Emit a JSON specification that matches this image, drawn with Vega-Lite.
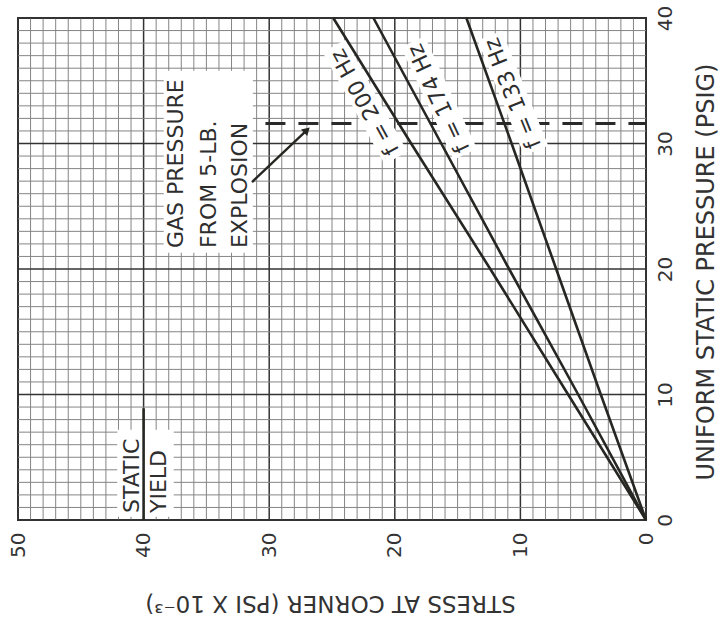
{
  "$schema": "https://vega.github.io/schema/vega-lite/v6.json",
  "width": 628,
  "height": 502,
  "autosize": {"type": "none"},
  "padding": {"left": 18, "top": 18, "right": 80, "bottom": 105},
  "background": "#ffffff",
  "config": {
    "font": "DejaVu Sans",
    "view": {"stroke": "#333333", "strokeWidth": 2},
    "axis": {"grid": false},
    "text": {"color": "#2e2e2e"}
  },
  "datasets": {
    "xgrid": [{"stress":0},{"stress":1},{"stress":2},{"stress":3},{"stress":4},{"stress":5},{"stress":6},{"stress":7},{"stress":8},{"stress":9},{"stress":10},{"stress":11},{"stress":12},{"stress":13},{"stress":14},{"stress":15},{"stress":16},{"stress":17},{"stress":18},{"stress":19},{"stress":20},{"stress":21},{"stress":22},{"stress":23},{"stress":24},{"stress":25},{"stress":26},{"stress":27},{"stress":28},{"stress":29},{"stress":30},{"stress":31},{"stress":32},{"stress":33},{"stress":34},{"stress":35},{"stress":36},{"stress":37},{"stress":38},{"stress":39},{"stress":40},{"stress":41},{"stress":42},{"stress":43},{"stress":44},{"stress":45},{"stress":46},{"stress":47},{"stress":48},{"stress":49},{"stress":50}],
    "ygrid": [{"pressure":0},{"pressure":1},{"pressure":2},{"pressure":3},{"pressure":4},{"pressure":5},{"pressure":6},{"pressure":7},{"pressure":8},{"pressure":9},{"pressure":10},{"pressure":11},{"pressure":12},{"pressure":13},{"pressure":14},{"pressure":15},{"pressure":16},{"pressure":17},{"pressure":18},{"pressure":19},{"pressure":20},{"pressure":21},{"pressure":22},{"pressure":23},{"pressure":24},{"pressure":25},{"pressure":26},{"pressure":27},{"pressure":28},{"pressure":29},{"pressure":30},{"pressure":31},{"pressure":32},{"pressure":33},{"pressure":34},{"pressure":35},{"pressure":36},{"pressure":37},{"pressure":38},{"pressure":39},{"pressure":40}],
    "curves": [
      {"series": "200", "stress": 0, "pressure": 0},
      {"series": "200", "stress": 6.2, "pressure": 10},
      {"series": "200", "stress": 12.4, "pressure": 20},
      {"series": "200", "stress": 18.7, "pressure": 30},
      {"series": "200", "stress": 24.9, "pressure": 40},
      {"series": "174", "stress": 0, "pressure": 0},
      {"series": "174", "stress": 5.4, "pressure": 10},
      {"series": "174", "stress": 10.9, "pressure": 20},
      {"series": "174", "stress": 16.3, "pressure": 30},
      {"series": "174", "stress": 21.7, "pressure": 40},
      {"series": "133", "stress": 0, "pressure": 0},
      {"series": "133", "stress": 3.6, "pressure": 10},
      {"series": "133", "stress": 7.15, "pressure": 20},
      {"series": "133", "stress": 10.7, "pressure": 30},
      {"series": "133", "stress": 14.3, "pressure": 40}
    ],
    "gas": [{"stress": 30.3, "stress2": 0, "pressure": 31.6}],
    "boxes": [
      {"stress": 38.4, "stress2": 31.3, "pressure": 21.3, "pressure2": 35.8},
      {"stress": 42.1, "stress2": 37.6, "pressure": 0.25, "pressure2": 7.2}
    ],
    "bands": [
      {"series": "200", "stress": 19.9, "pressure": 28.84, "stress2": 24.84, "pressure2": 37.77},
      {"series": "174", "stress": 14.39, "pressure": 29.15, "stress2": 18.57, "pressure2": 38.1},
      {"series": "133", "stress": 8.74, "pressure": 29.44, "stress2": 12.44, "pressure2": 38.6}
    ],
    "yield": [{"stress": 40, "pressure": 0, "pressure2": 8.9}],
    "arrow": [{"stress": 31.37, "pressure": 26.93, "stress2": 27.0, "pressure2": 31.07}],
    "arrowhead": [{"stress": 27.0, "pressure": 31.07}],
    "notes": [
      {"text": "GAS PRESSURE", "stress": 37.42, "pressure": 21.67},
      {"text": "FROM 5-LB.", "stress": 34.79, "pressure": 21.67},
      {"text": "EXPLOSION", "stress": 32.32, "pressure": 21.67},
      {"text": "STATIC", "stress": 40.92, "pressure": 0.56},
      {"text": "YIELD", "stress": 38.77, "pressure": 0.56}
    ],
    "curvelabels": [
      {"series": "200", "text": "f = 200 Hz", "stress": 22.37, "pressure": 33.3},
      {"series": "174", "text": "f = 174 Hz", "stress": 16.5, "pressure": 33.6},
      {"series": "133", "text": "f = 133 Hz", "stress": 10.6, "pressure": 34.0}
    ]
  },
  "layer": [
    {
      "data": {"name": "xgrid"},
      "mark": {"type": "rule"},
      "encoding": {
        "x": {"field": "stress", "type": "quantitative", "scale": {"domain": [0, 50], "reverse": true, "nice": false}},
        "color": {"condition": {"test": "datum.stress % 10 === 0", "value": "#333333"}, "value": "#858585"},
        "strokeWidth": {"condition": {"test": "datum.stress % 10 === 0", "value": 1.5}, "value": 1}
      }
    },
    {
      "data": {"name": "ygrid"},
      "mark": {"type": "rule"},
      "encoding": {
        "y": {"field": "pressure", "type": "quantitative", "scale": {"domain": [0, 40], "nice": false}},
        "color": {"condition": {"test": "datum.pressure % 10 === 0", "value": "#333333"}, "value": "#858585"},
        "strokeWidth": {"condition": {"test": "datum.pressure % 10 === 0", "value": 1.5}, "value": 1}
      }
    },
    {
      "data": {"name": "gas"},
      "mark": {"type": "rule", "color": "#2a2a2a", "strokeWidth": 3, "strokeDash": [20, 13]},
      "encoding": {
        "x": {"field": "stress", "type": "quantitative"},
        "x2": {"field": "stress2"},
        "y": {"field": "pressure", "type": "quantitative"}
      }
    },
    {
      "data": {"name": "boxes"},
      "mark": {"type": "rect", "fill": "#ffffff"},
      "encoding": {
        "x": {"field": "stress", "type": "quantitative"},
        "x2": {"field": "stress2"},
        "y": {"field": "pressure", "type": "quantitative"},
        "y2": {"field": "pressure2"}
      }
    },
    {
      "data": {"name": "bands"},
      "mark": {"type": "rule", "color": "#ffffff", "strokeWidth": 26, "strokeCap": "butt"},
      "encoding": {
        "x": {"field": "stress", "type": "quantitative"},
        "x2": {"field": "stress2"},
        "y": {"field": "pressure", "type": "quantitative"},
        "y2": {"field": "pressure2"}
      }
    },
    {
      "data": {"name": "curves"},
      "mark": {"type": "line", "color": "#262622", "strokeWidth": 2.6},
      "encoding": {
        "x": {
          "field": "stress", "type": "quantitative",
          "scale": {"domain": [0, 50], "reverse": true, "nice": false},
          "axis": {
            "orient": "bottom",
            "title": "STRESS AT CORNER (PSI X 10⁻³)",
            "values": [0, 10, 20, 30, 40, 50],
            "labelOverlap": false,
            "labelFlush": false,
            "labelAngle": -90,
            "labelAlign": "right",
            "labelBaseline": "middle",
            "labelPadding": 12,
            "labelFontSize": 20,
            "labelColor": "#333333",
            "ticks": false,
            "domain": false,
            "grid": false,
            "titleAngle": 180,
            "titleX": 312,
            "titleY": 82,
            "titleAlign": "center",
            "titleBaseline": "middle",
            "titleFontSize": 23,
            "titleFontWeight": "normal",
            "titleColor": "#333333"
          }
        },
        "y": {
          "field": "pressure", "type": "quantitative",
          "scale": {"domain": [0, 40], "nice": false},
          "axis": {
            "orient": "right",
            "title": "UNIFORM STATIC PRESSURE (PSIG)",
            "values": [0, 10, 20, 30, 40],
            "labelOverlap": false,
            "labelFlush": false,
            "labelAngle": -90,
            "labelAlign": "center",
            "labelBaseline": "top",
            "labelPadding": 9,
            "labelFontSize": 20,
            "labelColor": "#333333",
            "ticks": false,
            "domain": false,
            "grid": false,
            "titleAngle": -90,
            "titleX": 60,
            "titleY": 462,
            "titleAlign": "left",
            "titleBaseline": "middle",
            "titleFontSize": 24,
            "titleFontWeight": "normal",
            "titleColor": "#333333"
          }
        },
        "detail": {"field": "series"},
        "order": {"field": "pressure", "type": "quantitative"}
      }
    },
    {
      "data": {"name": "yield"},
      "mark": {"type": "rule", "color": "#262622", "strokeWidth": 2.6},
      "encoding": {
        "x": {"field": "stress", "type": "quantitative"},
        "y": {"field": "pressure", "type": "quantitative"},
        "y2": {"field": "pressure2"}
      }
    },
    {
      "data": {"name": "arrow"},
      "mark": {"type": "rule", "color": "#262622", "strokeWidth": 2.4},
      "encoding": {
        "x": {"field": "stress", "type": "quantitative"},
        "x2": {"field": "stress2"},
        "y": {"field": "pressure", "type": "quantitative"},
        "y2": {"field": "pressure2"}
      }
    },
    {
      "data": {"name": "arrowhead"},
      "mark": {"type": "point", "shape": "triangle-up", "angle": 46, "size": 80, "filled": true, "color": "#262622", "opacity": 1},
      "encoding": {
        "x": {"field": "stress", "type": "quantitative"},
        "y": {"field": "pressure", "type": "quantitative"}
      }
    },
    {
      "data": {"name": "notes"},
      "mark": {"type": "text", "angle": -90, "align": "left", "baseline": "middle", "fontSize": 22, "color": "#2e2e2e"},
      "encoding": {
        "x": {"field": "stress", "type": "quantitative"},
        "y": {"field": "pressure", "type": "quantitative"},
        "text": {"field": "text"}
      }
    },
    {
      "data": {"name": "curvelabels"},
      "transform": [{"filter": "datum.series === '200'"}],
      "mark": {"type": "text", "angle": -119, "align": "center", "baseline": "middle", "fontSize": 22, "color": "#2e2e2e"},
      "encoding": {
        "x": {"field": "stress", "type": "quantitative"},
        "y": {"field": "pressure", "type": "quantitative"},
        "text": {"field": "text"}
      }
    },
    {
      "data": {"name": "curvelabels"},
      "transform": [{"filter": "datum.series === '174'"}],
      "mark": {"type": "text", "angle": -115, "align": "center", "baseline": "middle", "fontSize": 22, "color": "#2e2e2e"},
      "encoding": {
        "x": {"field": "stress", "type": "quantitative"},
        "y": {"field": "pressure", "type": "quantitative"},
        "text": {"field": "text"}
      }
    },
    {
      "data": {"name": "curvelabels"},
      "transform": [{"filter": "datum.series === '133'"}],
      "mark": {"type": "text", "angle": -112, "align": "center", "baseline": "middle", "fontSize": 22, "color": "#2e2e2e"},
      "encoding": {
        "x": {"field": "stress", "type": "quantitative"},
        "y": {"field": "pressure", "type": "quantitative"},
        "text": {"field": "text"}
      }
    }
  ]
}
